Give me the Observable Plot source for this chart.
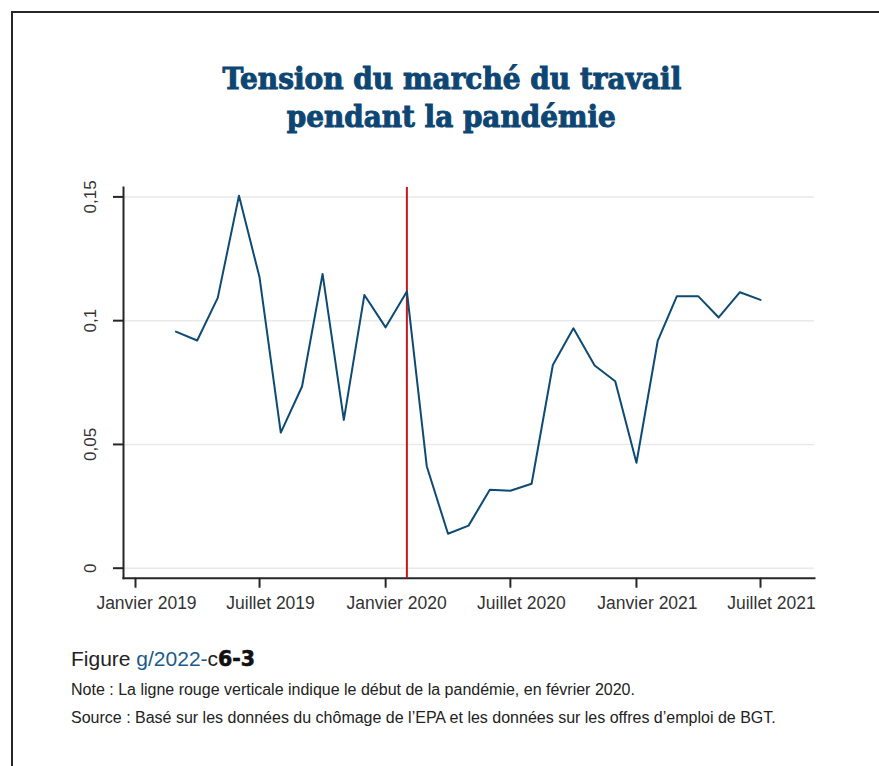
<!DOCTYPE html>
<html>
<head>
<meta charset="utf-8">
<script src="https://cdn.jsdelivr.net/npm/d3@7"></script>
<script src="https://cdn.jsdelivr.net/npm/@observablehq/plot@0.6"></script>
<style>
  html, body { margin: 0; padding: 0; background: #fff; width: 879px; height: 766px; overflow: hidden; }
  #frame { position: absolute; left: 11px; top: 11px; width: 900px; height: 800px; border-left: 2px solid #262626; border-top: 2px solid #262626; z-index: 2; pointer-events: none; }
  .title { position: absolute; left: 24px; width: 855px; text-align: center; font-family: "DejaVu Serif", serif; font-weight: bold; font-size: 29px; line-height: 29px; color: #0d4673; white-space: nowrap; -webkit-text-stroke: 1px #0d4673; }
  .title span { display: inline-block; transform-origin: center; }
  #chart { position: absolute; left: 0; top: 170px; }
  .foot { position: absolute; left: 71px; font-family: "Liberation Sans", Arial, sans-serif; color: #222; white-space: nowrap; line-height: 1; }
</style>
</head>
<body>
<div id="frame"></div>
<div class="title" id="t1" style="top:64.8px"><span data-w="459">Tension du marché du travail</span></div>
<div class="title" id="t2" style="top:103.2px"><span data-w="329">pendant la pandémie</span></div>
<div id="chart"></div>
<div class="foot" style="top:648.2px;font-size:21px;color:#222">Figure <span style="color:#1b5a8a">g/2022-</span>c<span style="font-family:'DejaVu Sans',sans-serif;font-weight:bold;font-size:20.5px;color:#111;-webkit-text-stroke:0.6px #111">6-3</span></div>
<div class="foot" id="note" style="top:681.5px;font-size:16px">Note : La ligne rouge verticale indique le début de la pandémie, en février 2020.</div>
<div class="foot" id="src" style="top:709.8px;font-size:16px">Source : Basé sur les données du chômage de l’EPA et les données sur les offres d’emploi de BGT.</div>
<script>
// ---- data ----
const months = [
  "2019-03","2019-04","2019-05","2019-06","2019-07","2019-08","2019-09","2019-10","2019-11","2019-12",
  "2020-01","2020-02","2020-03","2020-04","2020-05","2020-06","2020-07","2020-08","2020-09","2020-10","2020-11","2020-12",
  "2021-01","2021-02","2021-03","2021-04","2021-05","2021-06","2021-07"
];
const tension = [
  0.0956, 0.0920, 0.1092, 0.1505, 0.1175, 0.0548, 0.0734, 0.1189, 0.0599, 0.1104,
  0.0973, 0.1118, 0.0412, 0.0139, 0.0172, 0.0317, 0.0313, 0.0341, 0.0821, 0.0969, 0.0819, 0.0755,
  0.0426, 0.0918, 0.1099, 0.1099, 0.1013, 0.1115, 0.1084
];
const xTickMonths = ["2019-01","2019-07","2020-01","2020-07","2021-01","2021-07"];
const xTickLabels = ["Janvier 2019","Juillet 2019","Janvier 2020","Juillet 2020","Janvier 2021","Juillet 2021"];
const yTicks = [0, 0.05, 0.1, 0.15];
const yTickLabels = ["0","0,05","0,1","0,15"];
const pandemicStart = "2020-02";

// ---- build ----
const parse = m => new Date(m + "-01T00:00:00Z");
const data = months.map((m, i) => ({date: parse(m), value: tension[i]}));
const xTicks = xTickMonths.map(parse);
const xLabelMap = new Map(xTicks.map((d, i) => [+d, xTickLabels[i]]));
const yLabelMap = new Map(yTicks.map((v, i) => [v, yTickLabels[i]]));

const chart = Plot.plot({
  width: 879,
  height: 460,
  marginTop: 17,
  marginBottom: 52.3,
  marginLeft: 123,
  marginRight: 65,
  style: {fontFamily: "'Liberation Sans', Arial, sans-serif", fontSize: "17.5px", color: "#333", background: "transparent"},
  x: {type: "utc", domain: [new Date("2018-12-14T11:45:00Z"), new Date("2021-09-17T19:00:00Z")], label: null},
  y: {domain: [-0.00404, 0.1538], label: null},
  marks: [
    Plot.gridY(yTicks, {stroke: "#e9e9e9", strokeOpacity: 1, strokeWidth: 1.5}),
    Plot.frame({anchor: "left", stroke: "#262626", strokeWidth: 2}),
    Plot.frame({anchor: "bottom", stroke: "#262626", strokeWidth: 2}),
    Plot.axisY({ticks: yTicks, tickSize: 10, tickFormat: () => "", stroke: "#262626", strokeWidth: 2, label: null}),
    Plot.text(yTicks, {y: d => d, text: d => yLabelMap.get(d), frameAnchor: "left", dx: -33, rotate: -90, textAnchor: "middle", lineAnchor: "middle", fill: "#333", fontSize: 17}),
    Plot.axisX({ticks: xTicks, tickSize: 10, tickFormat: () => "", stroke: "#262626", strokeWidth: 2, label: null}),
    Plot.axisX({ticks: xTicks, tickSize: 0, tickPadding: 18, dx: 11, tickFormat: d => xLabelMap.get(+d), fill: "#333", label: null}),
    Plot.ruleX([parse(pandemicStart)], {stroke: "#c8161d", strokeWidth: 2}),
    Plot.lineY(data, {x: "date", y: "value", stroke: "#0d4a75", strokeWidth: 2})
  ]
});
document.getElementById("chart").appendChild(chart);

// fit title lines to the reference widths
document.querySelectorAll(".title span").forEach(s => {
  const w = s.getBoundingClientRect().width;
  const target = +s.dataset.w;
  if (w > 0) s.style.transform = `scaleX(${target / w})`;
});
</script>
</body>
</html>
